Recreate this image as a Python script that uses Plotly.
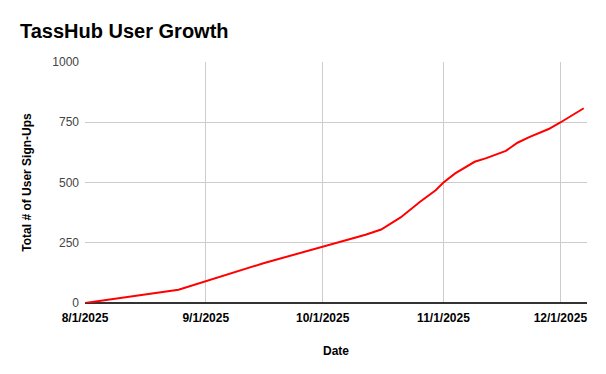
import plotly.graph_objects as go

dates = ["2025-08-01", "2025-08-25", "2025-09-16", "2025-10-01", "2025-10-12",
         "2025-10-16", "2025-10-21", "2025-10-26", "2025-10-30", "2025-11-01",
         "2025-11-04", "2025-11-09", "2025-11-12", "2025-11-17", "2025-11-20",
         "2025-11-23", "2025-11-28", "2025-12-01", "2025-12-04", "2025-12-07"]
signups = [0, 55, 166, 235, 283, 305, 355, 420, 468, 500,
           538, 586, 601, 631, 665, 688, 722, 749, 777, 808]

x_tick_vals = ["2025-08-01", "2025-09-01", "2025-10-01", "2025-11-01", "2025-12-01"]
x_tick_text = ["8/1/2025", "9/1/2025", "10/1/2025", "11/1/2025", "12/1/2025"]
y_tick_vals = [0, 250, 500, 750, 1000]

FONT = "Arial, Liberation Sans, sans-serif"

fig = go.Figure()
fig.add_trace(go.Scatter(x=dates, y=signups, mode="lines",
                         line=dict(color="#ff0000", width=2),
                         hoverinfo="skip", showlegend=False))

fig.update_layout(
    width=606, height=374,
    margin=dict(l=85, r=19, t=62, b=71),
    paper_bgcolor="white", plot_bgcolor="white",
    font=dict(family=FONT, size=12, color="#222"),
    title=dict(text="<b>TassHub User Growth</b>", x=20 / 606, xanchor="left",
               y=1 - 31 / 374, yanchor="middle",
               font=dict(family=FONT, size=20, color="#000")),
    xaxis=dict(
        range=["2025-08-01", "2025-12-07 20:00"],
        tickvals=x_tick_vals, ticktext=["<b>%s</b>" % t for t in x_tick_text],
        tickfont=dict(family=FONT, size=12, color="#000"),
        ticklabelstandoff=6,
        showgrid=True, gridcolor="#cccccc", gridwidth=1,
        showline=False, zeroline=False, ticks="", ticklen=0,
        title=dict(text="<b>Date</b>", font=dict(family=FONT, size=12, color="#000"), standoff=22),
    ),
    yaxis=dict(
        range=[0, 1000], tickvals=y_tick_vals,
        tickfont=dict(family=FONT, size=12, color="#444"),
        ticklabelstandoff=5,
        showgrid=True, gridcolor="#cccccc", gridwidth=1,
        zeroline=True, zerolinecolor="#333333", zerolinewidth=1.5,
        showline=False, ticks="", ticklen=0,
        title=dict(text="<b>Total # of User Sign-Ups</b>",
                   font=dict(family=FONT, size=12, color="#000"), standoff=18),
    ),
)

fig.write_html("out.html")
